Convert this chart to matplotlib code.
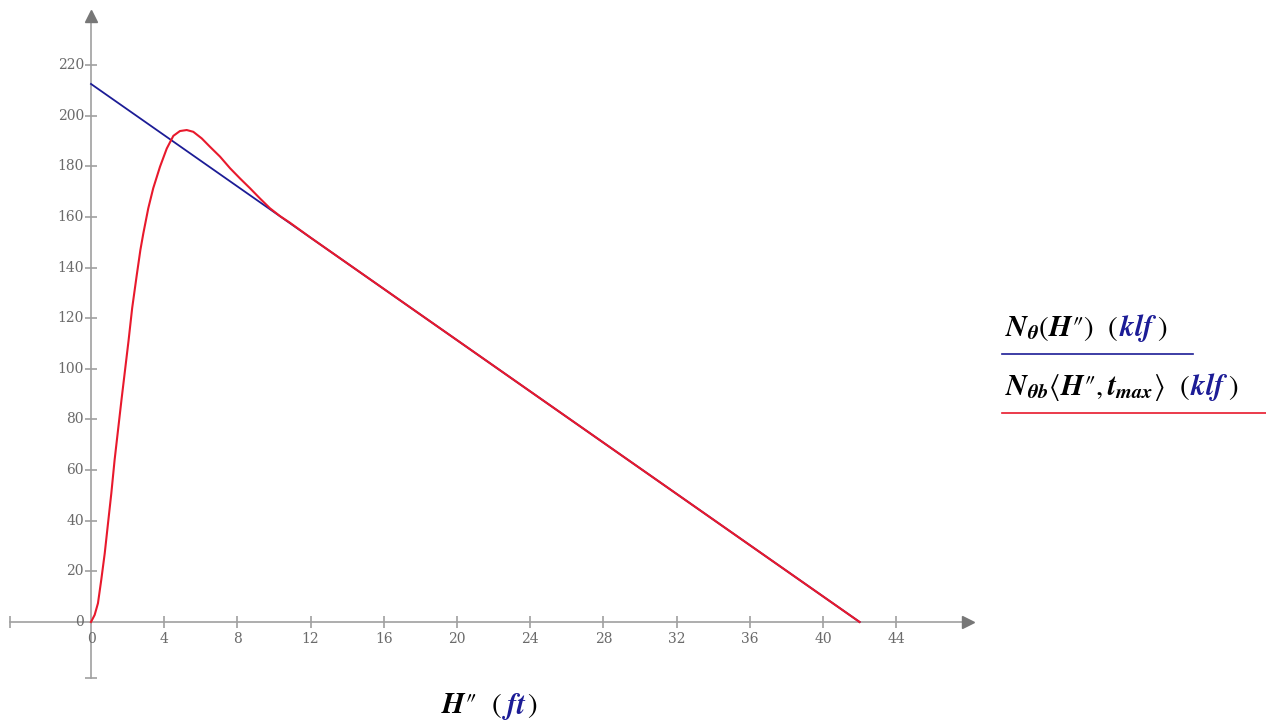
import numpy as np
import matplotlib
matplotlib.use("Agg")
import matplotlib.pyplot as plt
from matplotlib.lines import Line2D
from matplotlib.offsetbox import TextArea, HPacker, AnnotationBbox

plt.rcParams["mathtext.fontset"] = "stix"
plt.rcParams["font.family"] = "STIXGeneral"

# data
h_line = [0, 42]                  # N_theta(H'') straight line (ft)
n_line = [212.5, 0]               # klf
h_curve = [0, 0.2, 0.38, 0.56, 0.75, 0.93, 1.11, 1.29, 1.48, 1.67, 1.86, 2.05,
           2.25, 2.5, 2.7, 2.86, 3.13, 3.4, 3.77, 4.14, 4.5, 4.86, 5.23, 5.59,
           6.05, 6.5, 7.05, 7.6, 8.14, 8.69, 9.23, 9.78, 10.33, 10.87, 12, 42]
n_curve = [0, 2.8, 7.4, 16.6, 27.1, 39, 50.8, 64, 76, 88, 99.5, 111,
           124, 137, 147, 153.5, 163.4, 171.3, 179.8, 187, 192, 193.9, 194.3, 193.6,
           191, 187.7, 183.8, 179.2, 175.2, 171.3, 167.3, 163.4, 160.3, 157.7, 151.8, 0]
xticks = [4, 8, 12, 16, 20, 24, 28, 32, 36, 40, 44]
yticks = [20, 40, 60, 80, 100, 120, 140, 160, 180, 200, 220]

blue = "#1c1c96"
red = "#e8192c"
grey = "#a0a0a0"
tick_grey = "#6a6a6a"

W, H = 1266, 728
fig = plt.figure(figsize=(W / 100, H / 100), dpi=100)

# axes placed so that x=0 sits at px 91 and y=0 at px 622
xlim = (-4.5, 48.5)
ylim = (-25, 245)
px_x, px_y = 18.3, 2.532
left = 91 + xlim[0] * px_x
right = 91 + xlim[1] * px_x
bottom = 622 - ylim[0] * px_y
top = 622 - ylim[1] * px_y
ax = fig.add_axes([left / W, (H - bottom) / H, (right - left) / W, (bottom - top) / H])
ax.set_xlim(xlim)
ax.set_ylim(ylim)
ax.axis("off")

# hand-drawn axes with arrows
ax.plot([-4.43, 47.8], [0, 0], color=grey, lw=1.2, zorder=1)
ax.plot([0, 0], [-22, 239], color=grey, lw=1.2, zorder=1)
ax.plot([47.9], [0], marker=">", color="#777777", markersize=8, zorder=1)
ax.plot([0], [239.5], marker="^", color="#777777", markersize=8, zorder=1)
ax.plot([-4.43], [0], marker="|", color=grey, markersize=8, mew=1.2)
ax.plot([0], [-22], marker="_", color=grey, markersize=8, mew=1.2)
ax.plot(xticks, [0] * len(xticks), "|", color=grey, markersize=8, mew=1.2)
ax.plot([0] * len(yticks), yticks, "_", color=grey, markersize=8, mew=1.2)

for t in [0] + xticks:
    ax.annotate(str(t), (t, 0), xytext=(0, -7), textcoords="offset points",
                ha="center", va="top", fontsize=10, color=tick_grey,
                family="DejaVu Serif")
for t in [0] + yticks:
    ax.annotate(str(t), (0, t), xytext=(-5, 0), textcoords="offset points",
                ha="right", va="center", fontsize=10, color=tick_grey,
                family="DejaVu Serif")

ax.plot(h_line, n_line, color=blue, lw=1.3, zorder=3, solid_joinstyle="round")
ax.plot(h_curve, n_curve, color=red, lw=1.5, zorder=4, solid_joinstyle="round")


def colored_label(parts, size):
    boxes = [TextArea(s, textprops=dict(color=c, fontsize=size)) for s, c in parts]
    return HPacker(children=boxes, align="baseline", pad=0, sep=0)


fs = 21
xl = colored_label([(r"$\mathbfit{H}$″  (", "black"), (r"$\mathbfit{ft}$", blue),
                    (")", "black")], fs)
fig.add_artist(AnnotationBbox(xl, (489 / W, (H - 706) / H), xycoords="figure fraction",
                              frameon=False, box_alignment=(0.5, 0.5)))

leg1 = colored_label([(r"$\mathbfit{N}_{\mathbfit{\theta}}$($\mathbfit{H}$″)  (", "black"),
                      (r"$\mathbfit{klf}$", blue), (")", "black")], fs)
fig.add_artist(AnnotationBbox(leg1, (1005 / W, (H - 328) / H), xycoords="figure fraction",
                              frameon=False, box_alignment=(0, 0.5)))
leg2 = colored_label([(r"$\mathbfit{N}_{\mathbfit{\theta b}}\langle\mathbfit{H}$″$,"
                       r"\mathbfit{t}_{\mathbfit{max}}\rangle$  (", "black"),
                      (r"$\mathbfit{klf}$", blue), (")", "black")], fs)
fig.add_artist(AnnotationBbox(leg2, (1005 / W, (H - 387) / H), xycoords="figure fraction",
                              frameon=False, box_alignment=(0, 0.5)))

fig.add_artist(Line2D([1002 / W, 1193 / W], [(H - 354) / H] * 2, color=blue, lw=1.2))
fig.add_artist(Line2D([1002 / W, 1266 / W], [(H - 413) / H] * 2, color=red, lw=1.2))

fig.savefig("out.png", dpi=100)
